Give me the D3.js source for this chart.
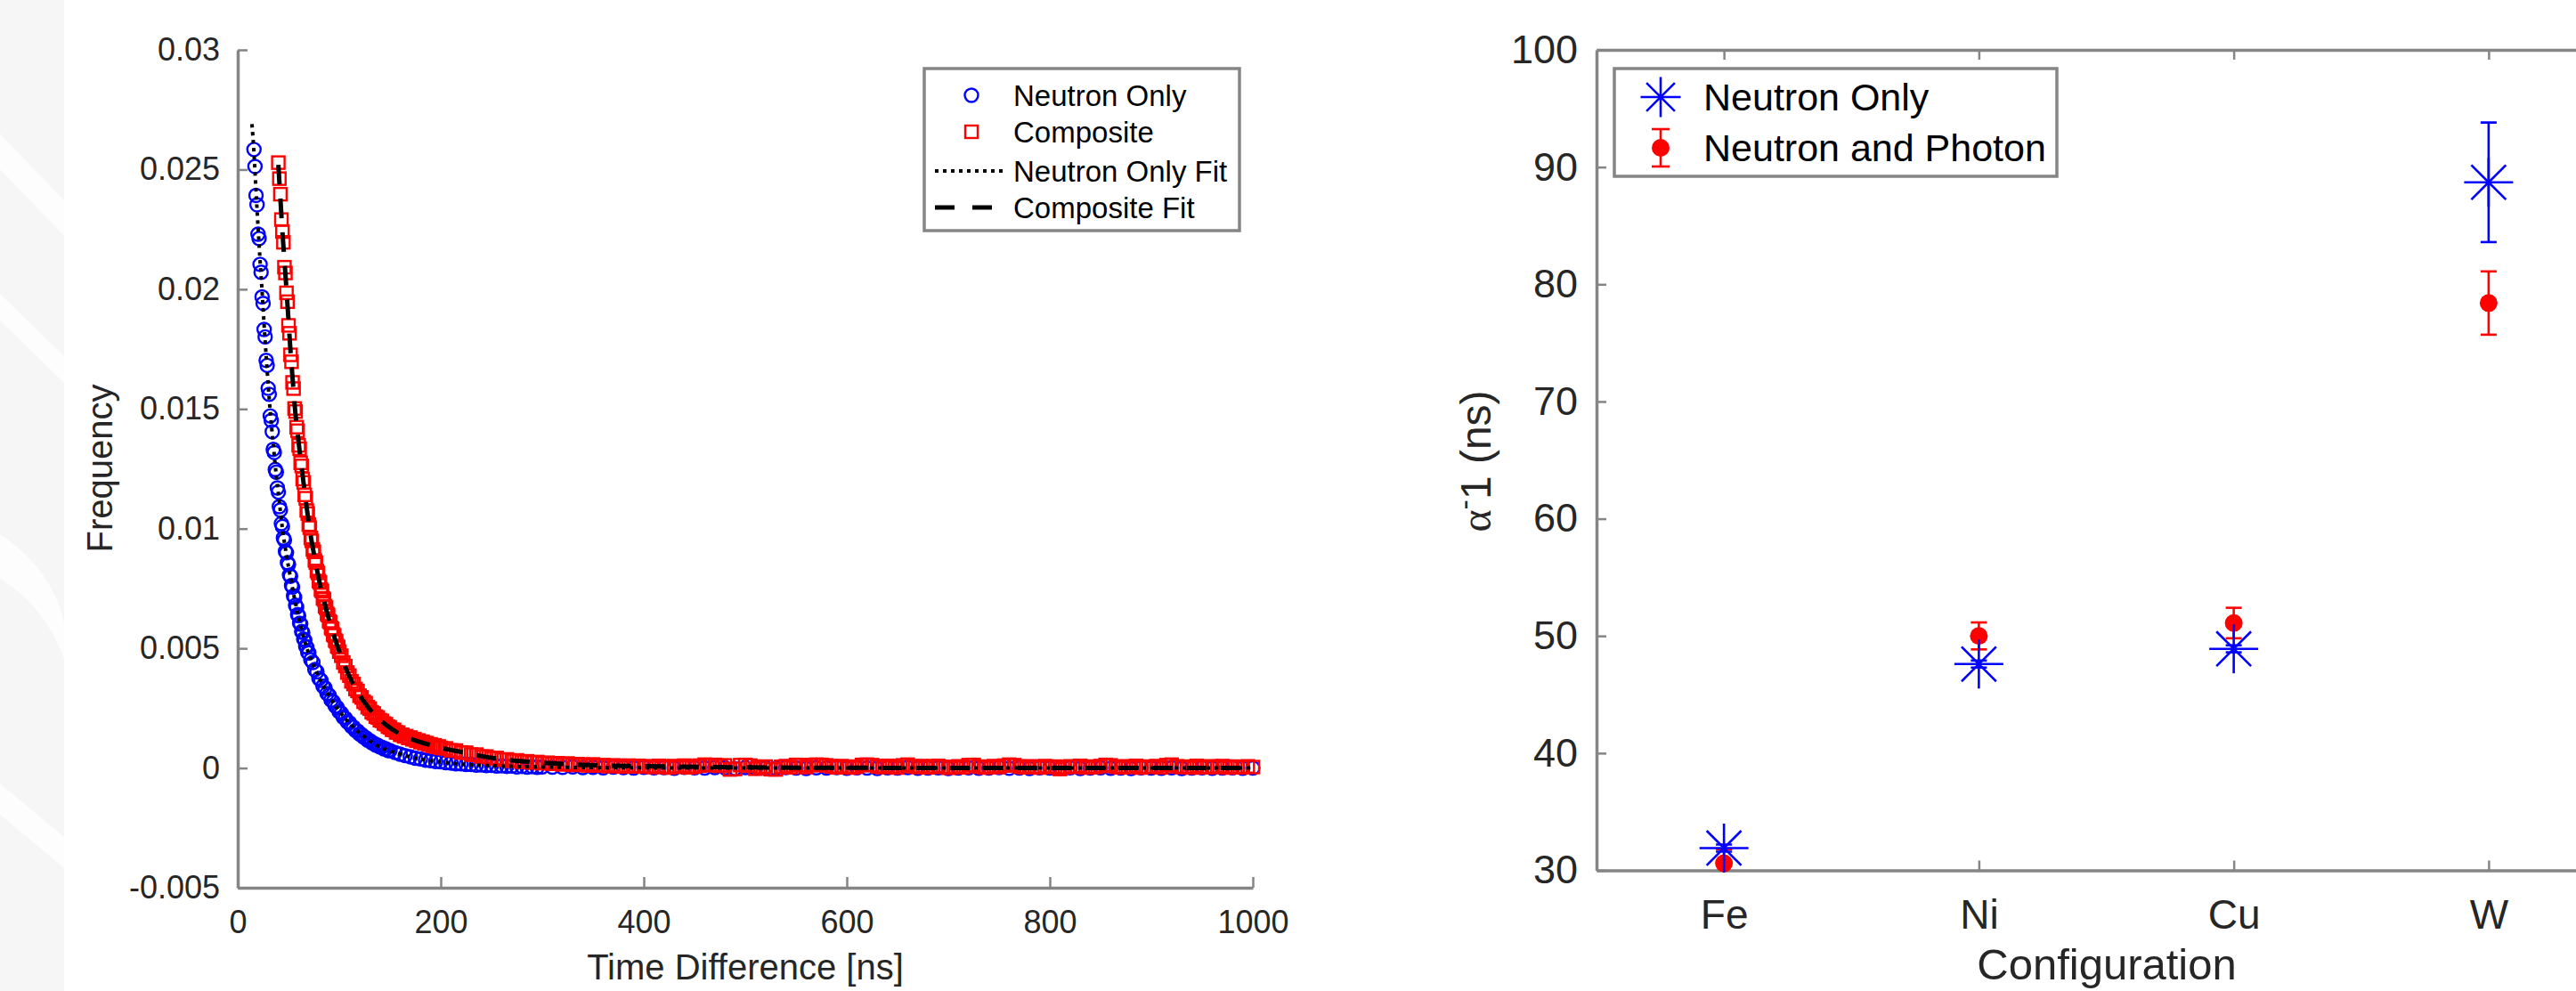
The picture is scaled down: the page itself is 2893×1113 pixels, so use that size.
<!DOCTYPE html>
<html>
<head>
<meta charset="utf-8">
<script src="https://cdn.jsdelivr.net/npm/d3@7"></script>
<style>
  body { margin: 0; background: #fff; }
  svg { display: block; }
  text { font-family: "Liberation Sans", Arial, Helvetica, sans-serif; }
</style>
</head>
<body>
<svg id="chart" width="2893" height="1113"></svg>
<script>
// ---------- left panel: time difference histograms (frequency values x 1e-4) ----------
const neutronTime = [
  16,17,18,19,20,21,22,23,24,25,26,27,28,29,30,31,32,33,34,35,36,37,38,39,40,41,42,43,
  44,45,46,47,48,49,50,51,52,53,54,55,56,57,58,59,60,61,62,63,64,65,66,67,68,69,70,
  72,74,76,78,80,82,84,86,88,90,92,94,96,98,100,102,104,106,108,110,112,114,116,118,120,
  122,124,126,128,130,132,134,136,138,140,142,144,146,148,150,
  155,160,165,170,175,180,185,190,195,200,205,210,215,220,225,230,235,240,245,250,
  255,260,265,270,275,280,285,290,295,300,
  310,320,330,340,350,360,370,380,390,400,410,420,430,440,450,460,470,480,490,500,
  510,520,530,540,550,560,570,580,590,600,610,620,630,640,650,660,670,680,690,700,
  710,720,730,740,750,760,770,780,790,800,810,820,830,840,850,860,870,880,890,900,
  910,920,930,940,950,960,970,980,990,1000
];
const neutronFreq = [
  258.4,251.3,239.2,235.3,223.0,221.2,210.4,207.1,196.8,194.1,183.2,180.1,170.3,168.2,
  158.6,156.1,147.1,145.2,140.5,133.1,131.8,124.7,123.6,117.0,115.3,109.2,107.8,102.1,
  100.9,96.1,95.2,90.5,89.9,85.8,85.0,80.6,80.1,76.3,75.6,71.9,71.3,68.0,67.2,64.1,63.6,
  60.5,60.1,57.0,56.6,53.9,53.4,50.8,50.5,48.3,48.1,
  45.2,44.1,41.1,40.2,37.4,36.6,34.2,33.4,31.1,30.4,28.4,27.7,25.9,25.3,23.5,22.9,21.2,
  20.8,19.2,18.9,17.4,17.1,15.7,15.5,14.2,14.0,12.9,12.7,11.6,11.5,10.6,10.4,9.6,9.5,
  8.8,8.7,8.0,8.0,7.3,7.3,
  6.5,5.8,5.2,4.7,4.1,3.8,3.3,3.1,2.7,2.6,2.2,2.1,1.8,1.8,1.5,1.5,1.2,1.3,1.0,1.1,
  0.8,0.9,0.7,0.8,0.5,0.7,0.4,0.6,0.3,0.5,
  0.4,0.3,0.5,0.2,0.3,0.1,0.4,0.2,0.0,0.3,0.1,0.2,-0.1,0.3,0.1,0.0,0.2,0.1,-0.2,0.2,
  0.0,0.1,-0.1,0.2,0.0,-0.2,0.1,0.0,0.2,-0.1,0.1,0.0,-0.2,0.1,0.0,0.2,-0.1,0.0,0.1,-0.2,
  0.0,0.1,-0.1,0.0,0.2,-0.1,0.0,-0.2,0.1,0.0,-0.1,0.1,-0.2,0.0,0.1,-0.1,0.0,-0.2,0.1,0.0,
  -0.1,0.1,-0.2,0.0,0.1,-0.1,0.0,0.1,-0.1,0.0
];
const compositeTime = [
  40,41,42,43,44,45,46,47,48,49,50,51,52,53,54,55,56,57,58,59,60,61,62,63,64,65,66,67,
  68,69,70,71,72,73,74,75,76,77,78,79,80,81,82,83,84,85,86,87,88,89,90,91,92,93,94,95,
  96,97,98,99,100,
  102,104,106,108,110,112,114,116,118,120,122,124,126,128,130,132,134,136,138,140,
  142,144,146,148,150,152,154,156,158,160,162,164,166,168,170,172,174,176,178,180,
  182,184,186,188,190,192,194,196,198,200,
  205,210,215,220,225,230,235,240,245,250,255,260,265,270,275,280,285,290,295,300,
  305,310,315,320,325,330,335,340,345,350,355,360,365,370,375,380,385,390,395,400,
  405,410,415,420,425,430,435,440,445,450,455,460,465,470,475,480,485,490,495,500,
  505,510,515,520,525,530,535,540,545,550,555,560,565,570,575,580,585,590,595,600,
  605,610,615,620,625,630,635,640,645,650,655,660,665,670,675,680,685,690,695,700,
  705,710,715,720,725,730,735,740,745,750,755,760,765,770,775,780,785,790,795,800,
  805,810,815,820,825,830,835,840,845,850,855,860,865,870,875,880,885,890,895,900,
  905,910,915,920,925,930,935,940,945,950,955,960,965,970,975,980,985,990,995,1000
];
const compositeFreq = [
  252.9,246.2,239.7,229.1,224.1,219.6,209.2,206.8,198.5,194.8,184.9,181.6,172.6,169.7,
  161.1,158.5,150.2,148.9,142.4,140.9,134.8,133.4,127.5,126.2,120.7,119.3,114.1,112.7,
  107.6,106.3,101.7,100.4,96.1,94.9,91.3,90.3,86.7,85.8,82.3,81.5,78.1,77.5,74.5,73.9,
  70.9,70.4,67.6,67.0,64.4,63.9,61.4,60.9,58.5,58.1,55.8,55.4,53.3,52.9,50.9,50.5,48.6,
  46.9,44.1,42.6,39.9,38.6,36.2,35.1,33.0,32.2,30.2,29.5,27.7,27.1,25.4,24.8,23.3,22.8,
  21.5,21.1,20.0,19.7,18.6,18.3,17.3,17.0,16.0,15.9,14.9,14.8,13.9,13.9,13.2,13.3,12.6,
  12.7,12.0,12.1,11.4,11.5,10.8,11.0,10.3,10.4,9.8,9.9,9.3,9.5,8.8,9.0,8.4,
  8.2,7.4,7.3,6.5,6.4,5.6,5.6,4.8,4.8,4.1,4.2,3.5,3.6,3.0,3.2,2.6,2.8,2.3,2.5,2.0,
  2.2,1.8,2.0,1.5,1.9,1.3,1.6,1.4,1.1,1.5,1.0,1.2,0.8,1.1,0.9,0.6,1.0,0.7,0.9,0.6,
  0.7,0.4,0.9,0.6,0.2,0.8,0.5,1.0,0.3,0.6,1.0,1.4,1.2,1.3,0.9,1.1,-0.6,-0.4,1.2,1.3,
  1.0,-0.3,0.4,0.6,-0.5,-0.6,0.5,0.8,0.3,1.3,1.2,0.4,1.2,1.4,1.3,1.1,0.7,0.3,0.8,0.4,
  0.2,0.6,1.3,1.4,1.2,0.7,0.4,0.9,0.6,0.2,1.1,1.4,0.7,0.4,0.8,0.3,0.6,0.9,0.5,0.1,
  0.4,0.7,0.3,1.2,1.3,0.6,0.2,0.5,0.8,0.4,1.0,1.4,1.2,0.6,0.3,0.7,0.5,0.2,0.8,0.4,
  0.6,-0.4,0.3,0.7,0.5,0.9,0.2,0.6,0.4,0.8,1.3,1.1,0.5,0.3,0.7,0.4,0.9,0.2,0.6,0.5,
  0.8,0.3,1.2,1.4,0.7,0.4,0.6,0.2,0.9,0.5,0.3,0.7,0.4,0.8,0.2,0.6,0.5,0.3,0.7,0.4
];
// fitted curves (x 1e-4)
const neutronFitTime = [14,16,18,20,22,24,26,28,30,32,35,38,41,44,48,52,56,60,65,70,76,82,90,98,
  106,115,125,135,150,165,180,200,225,250,280,320,380,450,600,800,1000];
const neutronFit = [269,257,241,226,212,199,185,172,160,149,135,122,111,100,89,79.5,70.7,63.0,
  54.5,47.7,41.6,36.2,30.1,25.0,20.6,16.6,13.0,10.0,7.2,5.2,3.7,2.5,1.5,1.0,0.6,0.3,0.1,0.05,0,0,0];
const compositeFitTime = [40,42,44,46,48,50,52,54,56,60,64,68,72,76,80,85,90,95,100,108,116,124,
  134,146,160,175,190,205,220,240,260,280,300,340,400,500,600,800,1000];
const compositeFit = [252,238,224,212,200,187,174,163,152,136,122,108.6,96.8,87.4,78.8,69.8,61.9,
  55.0,48.9,40.2,33.3,28.0,22.5,18.1,14.1,11.5,9.6,8.0,6.7,5.0,3.7,2.8,2.2,1.3,0.8,0.3,0.1,0,0];

const timeTicks = [0, 200, 400, 600, 800, 1000];
const freqTicks = [-0.005, 0, 0.005, 0.01, 0.015, 0.02, 0.025, 0.03];
const freqTickLabels = ['-0.005', '0', '0.005', '0.01', '0.015', '0.02', '0.025', '0.03'];
const leftLegend = ['Neutron Only', 'Composite', 'Neutron Only Fit', 'Composite Fit'];

// ---------- right panel: alpha^-1 per configuration ----------
const configs = ['Fe', 'Ni', 'Cu', 'W'];
const neutronOnlyAlpha = [31.9, 47.6, 48.9, 88.7];
const neutronOnlyErr = [0.3, 0.3, 0.3, 5.1];
const neutronPhotonAlpha = [30.6, 50.0, 51.1, 78.4];
const neutronPhotonErr = [1.2, 1.15, 1.3, 2.7];
const alphaTicks = [30, 40, 50, 60, 70, 80, 90, 100];
const rightLegend = ['Neutron Only', 'Neutron and Photon'];

const svg = d3.select('#chart');
const axisGrey = '#858585';
const textGrey = '#262626';
const blue = '#0000ff';
const red = '#ff0000';

// faint watermark strip on the far left
const wm = svg.append('g');
wm.append('rect').attr('x', 0).attr('y', 0).attr('width', 72).attr('height', 1113).attr('fill', '#f6f6f6');
wm.append('path').attr('d', 'M0,150 L72,225 L72,265 L0,190 Z').attr('fill', '#fdfdfd');
wm.append('path').attr('d', 'M0,330 L72,400 L72,430 L0,360 Z').attr('fill', '#fdfdfd');
wm.append('path').attr('d', 'M0,600 Q60,640 72,700 L72,740 Q50,680 0,650 Z').attr('fill', '#fdfdfd');
wm.append('path').attr('d', 'M0,880 L72,940 L72,975 L0,915 Z').attr('fill', '#fdfdfd');

function styleAxis(g, size) {
  g.attr('font-family', null).attr('font-size', null);
  g.select('.domain').attr('stroke', axisGrey).attr('stroke-width', 3.5);
  g.selectAll('.tick line').attr('stroke', axisGrey).attr('stroke-width', 2.5);
  g.selectAll('.tick text').attr('fill', textGrey).style('font-size', size + 'px');
}

// ===== left panel =====
const xL = d3.scaleLinear().domain([0, 1000]).range([267, 1407]);
const yL = d3.scaleLinear().domain([-0.005, 0.03]).range([997, 56]);
const gL = svg.append('g');

gL.append('g').attr('transform', 'translate(0,997)')
  .call(d3.axisBottom(xL).tickValues(timeTicks).tickFormat(d3.format('d'))
    .tickSizeInner(-12).tickSizeOuter(0).tickPadding(25))
  .call(g => styleAxis(g, 36));
gL.append('g').attr('transform', 'translate(267,0)')
  .call(d3.axisLeft(yL).tickValues(freqTicks).tickFormat((d, i) => freqTickLabels[i])
    .tickSizeInner(-11).tickSizeOuter(0).tickPadding(20))
  .call(g => styleAxis(g, 36));

gL.append('text').attr('x', 837).attr('y', 1100).attr('text-anchor', 'middle')
  .attr('fill', textGrey).style('font-size', '40px').text('Time Difference [ns]');
gL.append('text').attr('transform', 'translate(126,526) rotate(-90)').attr('text-anchor', 'middle')
  .attr('fill', textGrey).style('font-size', '40px').text('Frequency');

const neutronPts = neutronTime.map((t, i) => ({ t, f: neutronFreq[i] * 1e-4 })).filter(d => !isNaN(d.f));
const compositePts = compositeTime.map((t, i) => ({ t, f: compositeFreq[i] * 1e-4 })).filter(d => !isNaN(d.f));
const neutronFitPts = neutronFitTime.map((t, i) => ({ t, f: neutronFit[i] * 1e-4 }));
const compositeFitPts = compositeFitTime.map((t, i) => ({ t, f: compositeFit[i] * 1e-4 }));

gL.append('g').selectAll('circle').data(neutronPts).join('circle')
  .attr('cx', d => xL(d.t)).attr('cy', d => yL(d.f)).attr('r', 7.5)
  .attr('fill', 'none').attr('stroke', blue).attr('stroke-width', 2.4);
gL.append('g').selectAll('rect').data(compositePts).join('rect')
  .attr('x', d => xL(d.t) - 7).attr('y', d => yL(d.f) - 7).attr('width', 14).attr('height', 14)
  .attr('fill', 'none').attr('stroke', red).attr('stroke-width', 2.4);

const fitLine = d3.line().x(d => xL(d.t)).y(d => yL(d.f)).curve(d3.curveMonotoneX);
gL.append('path').datum(neutronFitPts).attr('d', fitLine).attr('fill', 'none')
  .attr('stroke', '#000').attr('stroke-width', 4).attr('stroke-dasharray', '4,5');
gL.append('path').datum(compositeFitPts).attr('d', fitLine).attr('fill', 'none')
  .attr('stroke', '#000').attr('stroke-width', 5).attr('stroke-dasharray', '22,16');

// left legend
const lgL = gL.append('g');
lgL.append('rect').attr('x', 1038).attr('y', 77).attr('width', 354).attr('height', 182)
  .attr('fill', '#fff').attr('stroke', axisGrey).attr('stroke-width', 3.5);
const rowY = [107, 148, 192, 233];
lgL.selectAll('text').data(leftLegend).join('text')
  .attr('x', 1138).attr('y', (d, i) => rowY[i] + 12).attr('fill', '#000')
  .style('font-size', '33px').text(d => d);
lgL.append('circle').attr('cx', 1091).attr('cy', rowY[0]).attr('r', 7.5)
  .attr('fill', 'none').attr('stroke', blue).attr('stroke-width', 2.4);
lgL.append('rect').attr('x', 1084).attr('y', rowY[1] - 7).attr('width', 14).attr('height', 14)
  .attr('fill', 'none').attr('stroke', red).attr('stroke-width', 2.4);
lgL.append('line').attr('x1', 1050).attr('x2', 1128).attr('y1', rowY[2]).attr('y2', rowY[2])
  .attr('stroke', '#000').attr('stroke-width', 4).attr('stroke-dasharray', '4,5');
lgL.append('line').attr('x1', 1050).attr('x2', 1128).attr('y1', rowY[3]).attr('y2', rowY[3])
  .attr('stroke', '#000').attr('stroke-width', 5).attr('stroke-dasharray', '22,20');

// ===== right panel =====
const xR = d3.scaleLinear().domain([0.5, 4.5]).range([1793, 2938]);
const yR = d3.scaleLinear().domain([30, 100]).range([977.5, 56]);
const gR = svg.append('g');

gR.append('defs').append('clipPath').attr('id', 'clipR').append('rect')
  .attr('x', 1793).attr('y', 56).attr('width', 2938 - 1793).attr('height', 977.5 - 56);

gR.append('g').attr('transform', 'translate(0,977.5)')
  .call(d3.axisBottom(xR).tickValues([1, 2, 3, 4]).tickFormat((d, i) => configs[i])
    .tickSizeInner(-11).tickSizeOuter(0).tickPadding(33))
  .call(g => styleAxis(g, 46));
gR.append('g').attr('transform', 'translate(0,56)')
  .call(d3.axisTop(xR).tickValues([1, 2, 3, 4]).tickFormat('')
    .tickSizeInner(-11).tickSizeOuter(0))
  .call(g => styleAxis(g, 46));
gR.append('g').attr('transform', 'translate(1793,0)')
  .call(d3.axisLeft(yR).tickValues(alphaTicks).tickFormat(d3.format('d'))
    .tickSizeInner(-11).tickSizeOuter(0).tickPadding(21))
  .call(g => styleAxis(g, 45));
gR.append('g').attr('transform', 'translate(2938,0)')
  .call(d3.axisRight(yR).tickValues(alphaTicks).tickFormat('')
    .tickSizeInner(-11).tickSizeOuter(0))
  .call(g => styleAxis(g, 45));

gR.append('text').attr('x', 2366).attr('y', 1100).attr('text-anchor', 'middle')
  .attr('fill', textGrey).style('font-size', '49px').text('Configuration');
const yLab = gR.append('text').attr('transform', 'translate(1674,518) rotate(-90)')
  .attr('text-anchor', 'middle').attr('fill', textGrey).style('font-size', '48px');
yLab.append('tspan').style('font-family', '"Liberation Serif", "DejaVu Serif", serif').text('α');
yLab.append('tspan').attr('dy', -18).style('font-size', '34px').text('-');
yLab.append('tspan').attr('dy', 18).text('1 (ns)');

function errorBars(g, vals, errs, color) {
  const eb = g.append('g').attr('clip-path', 'url(#clipR)')
    .attr('stroke', color).attr('stroke-width', 2.6);
  vals.forEach((v, i) => {
    const cx = xR(i + 1), y0 = yR(v - errs[i]), y1 = yR(v + errs[i]);
    eb.append('line').attr('x1', cx).attr('x2', cx).attr('y1', y0).attr('y2', y1);
    eb.append('line').attr('x1', cx - 9).attr('x2', cx + 9).attr('y1', y0).attr('y2', y0);
    eb.append('line').attr('x1', cx - 9).attr('x2', cx + 9).attr('y1', y1).attr('y2', y1);
  });
}

function asterisk(g, cx, cy, r) {
  const a = g.append('g').attr('stroke', blue).attr('stroke-width', 2.6);
  const d = r * Math.SQRT1_2;
  a.append('line').attr('x1', cx - r).attr('x2', cx + r).attr('y1', cy).attr('y2', cy);
  a.append('line').attr('x1', cx).attr('x2', cx).attr('y1', cy - r).attr('y2', cy + r);
  a.append('line').attr('x1', cx - d).attr('x2', cx + d).attr('y1', cy - d).attr('y2', cy + d);
  a.append('line').attr('x1', cx - d).attr('x2', cx + d).attr('y1', cy + d).attr('y2', cy - d);
}

// neutron and photon (red) underneath, neutron only (blue) on top
errorBars(gR, neutronPhotonAlpha, neutronPhotonErr, red);
gR.append('g').selectAll('circle').data(neutronPhotonAlpha).join('circle')
  .attr('cx', (d, i) => xR(i + 1)).attr('cy', d => yR(d)).attr('r', 10).attr('fill', red);
errorBars(gR, neutronOnlyAlpha, neutronOnlyErr, blue);
neutronOnlyAlpha.forEach((v, i) => asterisk(gR, xR(i + 1), yR(v), 27.5));

// right legend
const lgR = gR.append('g');
lgR.append('rect').attr('x', 1813).attr('y', 77).attr('width', 497).attr('height', 121)
  .attr('fill', '#fff').attr('stroke', axisGrey).attr('stroke-width', 3.5);
const rowYR = [109, 166];
lgR.selectAll('text').data(rightLegend).join('text')
  .attr('x', 1913).attr('y', (d, i) => rowYR[i] + 15).attr('fill', '#000')
  .style('font-size', '43px').text(d => d);
asterisk(lgR, 1865, rowYR[0], 22.5);
const lr = lgR.append('g').attr('stroke', red).attr('stroke-width', 2.6);
lr.append('line').attr('x1', 1865).attr('x2', 1865).attr('y1', rowYR[1] - 21).attr('y2', rowYR[1] + 21);
lr.append('line').attr('x1', 1855).attr('x2', 1875).attr('y1', rowYR[1] - 21).attr('y2', rowYR[1] - 21);
lr.append('line').attr('x1', 1855).attr('x2', 1875).attr('y1', rowYR[1] + 21).attr('y2', rowYR[1] + 21);
lgR.append('circle').attr('cx', 1865).attr('cy', rowYR[1]).attr('r', 10).attr('fill', red);
</script>
</body>
</html>
